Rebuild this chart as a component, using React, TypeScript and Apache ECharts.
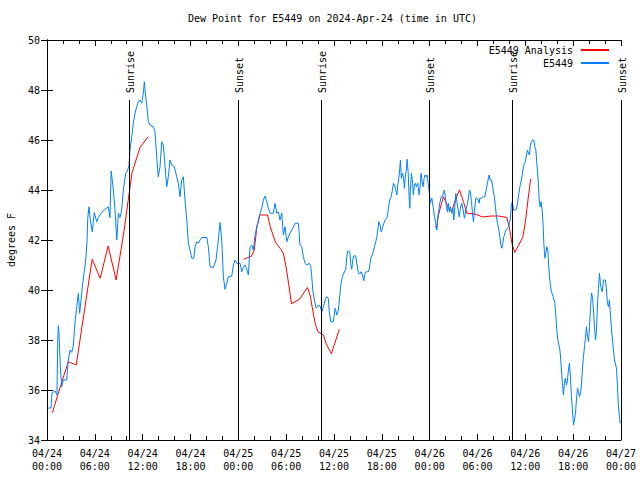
import React, { useEffect, useRef } from 'react';
import * as echarts from 'echarts';

const FONT = '"DejaVu Sans Mono", "Liberation Mono", monospace';

const titleText = 'Dew Point for E5449 on 2024-Apr-24 (time in UTC)';
const yAxisName = 'degrees F';
const seriesNames = ['E5449 Analysis', 'E5449'];

const xTickLabels = [
  '04/24\n00:00', '04/24\n06:00', '04/24\n12:00', '04/24\n18:00',
  '04/25\n00:00', '04/25\n06:00', '04/25\n12:00', '04/25\n18:00',
  '04/26\n00:00', '04/26\n06:00', '04/26\n12:00', '04/26\n18:00',
  '04/27\n00:00',
];

// hours since 04/24 00:00 UTC
const sunHours = [10.33, 23.9, 34.37, 47.93, 58.38, 71.96];
const sunLabels = ['Sunrise', 'Sunset', 'Sunrise', 'Sunset', 'Sunrise', 'Sunset'];

// [hour, degF]; null = gap
const analysis: [number, number | null][] = [
  [0.67, 35.09], [1.67, 36.13], [2.67, 37.13], [3.67, 37.0], [4.67, 39.13], [5.67, 41.23],
  [6.67, 40.47], [7.67, 41.76], [8.67, 40.4], [9.67, 42.37], [10.17, 43.55], [10.67, 44.7],
  [11.67, 45.7], [12.67, 46.13], [18, null],
  [24.67, 41.23], [25.67, 41.36], [26.0, 41.6], [26.33, 42.53], [26.67, 43.0], [27.67, 43.0],
  [28.0, 42.53], [28.67, 41.9], [29.33, 41.63], [29.67, 41.44], [30.0, 40.9], [30.33, 40.2],
  [30.67, 39.45], [31.67, 39.63], [32.67, 40.1], [33.0, 39.8], [33.33, 39.2], [33.67, 38.62],
  [34.0, 38.32], [34.67, 38.2], [35.0, 37.87], [35.67, 37.45], [36.67, 38.43], [42, null],
  [48.68, 42.53], [48.9, 42.53], [49.1, 43.0], [49.5, 43.47], [49.72, 43.73], [49.93, 43.6],
  [50.35, 43.27], [50.78, 43.13], [51.2, 43.6], [51.74, 44.0], [52.24, 43.53], [52.67, 43.07],
  [53.67, 43.04], [54.67, 42.92], [55.67, 42.96], [56.67, 42.96], [57.67, 42.9], [58.0, 42.5],
  [58.33, 41.85], [58.67, 41.5], [59.67, 42.1], [60.0, 42.7], [60.33, 43.6], [60.67, 44.45],
];

const observed: [number, number][] = [
  [0.13, 35.28], [0.5, 35.28], [0.63, 35.88], [1.0, 35.97], [1.25, 35.8], [1.34, 37.88], [1.42, 38.57],
  [1.5, 38.3], [1.67, 36.93], [1.84, 36.13], [2.05, 36.4], [2.47, 36.4], [2.63, 37.1], [2.89, 37.6],
  [3.1, 37.5], [3.3, 37.76], [3.51, 38.7], [3.73, 39.33], [3.93, 39.87], [4.1, 39.07], [4.27, 39.6],
  [4.43, 40.13], [4.64, 40.67], [4.86, 41.2], [5.02, 41.93], [5.11, 42.87], [5.27, 43.33], [5.43, 42.8],
  [5.68, 42.33], [5.93, 43.1], [6.24, 42.73], [6.44, 42.9], [6.65, 43.0], [6.86, 43.1], [7.19, 43.2],
  [7.69, 43.33], [7.9, 42.9], [8.05, 44.76], [8.32, 44.0], [8.53, 43.2], [8.75, 42.0], [8.95, 43.07],
  [9.16, 42.9], [9.37, 43.2], [9.57, 44.0], [9.87, 44.67], [10.13, 44.8], [10.29, 45.0], [10.41, 45.6],
  [10.63, 46.13], [10.83, 46.67], [11.04, 47.07], [11.25, 47.33], [11.46, 47.53], [11.67, 47.6],
  [11.88, 47.47], [12.08, 47.87], [12.21, 48.33], [12.38, 47.73], [12.58, 47.2], [12.71, 46.73],
  [12.92, 46.6], [13.34, 46.53], [13.55, 46.33], [13.76, 45.33], [13.96, 44.53], [14.18, 44.93],
  [14.39, 45.93], [14.59, 45.8], [14.81, 44.93], [15.02, 44.13], [15.22, 44.53], [15.43, 45.2],
  [15.65, 45.0], [15.97, 44.93], [16.27, 44.53], [16.47, 44.27], [16.69, 43.73], [16.9, 44.4],
  [17.1, 44.53], [17.31, 43.6], [17.53, 42.8], [17.73, 41.87], [17.94, 41.6], [18.16, 41.27],
  [18.41, 41.27], [18.57, 41.73], [18.78, 41.93], [18.98, 41.87], [19.2, 42.0], [19.41, 42.1],
  [20.04, 42.1], [20.24, 41.73], [20.45, 40.93], [20.87, 40.9], [21.2, 41.2], [21.49, 42.0],
  [21.71, 42.7], [21.92, 42.0], [22.12, 40.53], [22.33, 40.03], [22.55, 40.27], [22.75, 40.53],
  [23.17, 40.56], [23.38, 41.0], [23.59, 41.2], [23.8, 41.07], [24.0, 41.04], [24.22, 41.07],
  [24.43, 40.73], [24.63, 40.9], [24.84, 41.0], [25.06, 40.83], [25.26, 40.6], [25.47, 41.73],
  [25.68, 41.8], [25.88, 41.6], [26.1, 42.2], [26.31, 42.53], [26.51, 42.73], [26.73, 43.07],
  [26.94, 43.27], [27.14, 43.6], [27.35, 43.76], [27.57, 43.53], [27.77, 43.27], [27.98, 43.07],
  [28.39, 43.07], [28.61, 43.47], [28.82, 43.07], [29.02, 43.13], [29.23, 42.8], [29.45, 43.07],
  [29.65, 42.2], [29.86, 42.53], [30.08, 41.93], [30.28, 42.13], [30.58, 42.33], [30.83, 42.47],
  [31.12, 42.67], [31.53, 42.67], [31.74, 41.8], [31.96, 41.73], [32.16, 41.33], [32.37, 41.07],
  [32.58, 41.0], [32.91, 41.07], [33.09, 40.93], [33.21, 40.53], [33.34, 40.0], [33.54, 39.6],
  [33.75, 39.27], [33.92, 39.33], [34.04, 39.4], [34.25, 39.36], [34.47, 39.13], [34.67, 39.33],
  [34.88, 39.6], [35.09, 39.73], [35.29, 39.67], [35.42, 39.07], [35.6, 38.73], [35.92, 38.73],
  [36.14, 39.27], [36.35, 39.0], [36.55, 39.2], [36.67, 39.6], [36.89, 40.27], [37.05, 40.53],
  [37.18, 40.64], [37.48, 40.83], [37.6, 41.33], [37.73, 41.56], [37.98, 41.53], [38.11, 41.0],
  [38.23, 40.83], [38.36, 41.2], [38.48, 41.37], [38.73, 41.36], [38.86, 41.07], [39.06, 40.67],
  [39.23, 40.64], [39.4, 40.73], [39.56, 40.6], [39.74, 40.37], [39.9, 40.69], [40.03, 40.73],
  [40.31, 40.73], [40.44, 40.87], [40.61, 41.27], [40.74, 41.36], [40.94, 41.53], [41.07, 41.73],
  [41.24, 41.93], [41.37, 42.13], [41.49, 42.4], [41.62, 42.73], [41.78, 42.6], [41.91, 42.33],
  [42.07, 42.47], [42.25, 42.67], [42.41, 42.8], [42.62, 42.87], [42.75, 43.07], [42.82, 43.27],
  [43.0, 43.6], [43.16, 43.73], [43.33, 44.0], [43.45, 44.27], [43.58, 44.2], [43.75, 44.0],
  [43.88, 43.8], [44.0, 44.2], [44.13, 44.47], [44.25, 44.87], [44.33, 45.2], [44.45, 44.47],
  [44.58, 44.67], [44.71, 44.53], [44.83, 44.07], [44.96, 44.6], [45.08, 44.8], [45.17, 45.23],
  [45.3, 44.73], [45.42, 43.73], [45.51, 43.27], [45.58, 44.0], [45.71, 44.67], [45.83, 44.4],
  [45.96, 43.8], [46.08, 44.2], [46.21, 44.27], [46.33, 44.13], [46.51, 44.27], [46.68, 43.8],
  [46.8, 44.13], [46.93, 44.67], [47.05, 44.33], [47.18, 44.13], [47.3, 44.47], [47.43, 44.6],
  [47.55, 44.53], [47.68, 44.6], [47.84, 44.2], [47.97, 43.87], [48.09, 43.47], [48.27, 43.67],
  [48.43, 43.33], [48.6, 42.93], [48.77, 42.67], [48.9, 42.4], [49.02, 42.93], [49.15, 43.2],
  [49.27, 43.47], [49.44, 43.73], [49.6, 43.73], [49.72, 43.87], [49.85, 44.0], [49.97, 43.73],
  [50.1, 43.33], [50.23, 43.13], [50.35, 43.47], [50.48, 43.13], [50.6, 43.33], [50.78, 43.07],
  [50.91, 43.27], [51.03, 42.8], [51.16, 43.33], [51.28, 43.87], [51.41, 43.53], [51.54, 43.27],
  [51.7, 42.93], [51.86, 43.27], [52.03, 43.47], [52.2, 43.2], [52.36, 42.87], [52.53, 43.2],
  [52.7, 43.4], [52.86, 43.67], [52.99, 44.0], [53.11, 43.93], [53.24, 43.53], [53.36, 43.13],
  [53.49, 42.73], [53.61, 43.13], [53.79, 43.67], [53.95, 43.67], [54.08, 43.6], [54.2, 43.47],
  [54.29, 43.67], [54.49, 43.67], [54.71, 43.73], [54.92, 43.73], [55.12, 44.07], [55.33, 44.4],
  [55.46, 44.6], [55.58, 44.4], [55.75, 44.4], [55.87, 44.2], [56.0, 43.93], [56.12, 43.73],
  [56.25, 43.33], [56.38, 42.93], [56.5, 42.67], [56.68, 42.4], [56.8, 42.13], [56.93, 41.8],
  [57.05, 41.67], [57.18, 41.87], [57.3, 42.13], [57.43, 42.27], [57.59, 42.4], [57.76, 42.47],
  [57.88, 42.53], [58.01, 42.67], [58.13, 42.87], [58.26, 43.47], [58.39, 43.53], [58.51, 43.2],
  [58.72, 43.2], [58.88, 43.23], [59.01, 43.47], [59.13, 43.73], [59.26, 44.0], [59.39, 44.27],
  [59.51, 44.4], [59.64, 44.67], [59.76, 44.93], [59.89, 45.07], [60.01, 45.13], [60.14, 45.4],
  [60.26, 45.6], [60.39, 45.47], [60.51, 45.4], [60.64, 45.8], [60.77, 45.93], [60.89, 46.0],
  [61.07, 46.0], [61.19, 45.73], [61.32, 45.6], [61.44, 45.07], [61.61, 44.4], [61.73, 43.6],
  [61.86, 43.33], [61.98, 43.53], [62.11, 43.2], [62.23, 42.6], [62.32, 41.87], [62.45, 41.27],
  [62.57, 41.47], [62.7, 41.73], [62.82, 41.6], [62.95, 40.87], [63.07, 40.4], [63.27, 39.93],
  [63.49, 39.73], [63.7, 39.47], [63.82, 39.0], [63.95, 38.4], [64.11, 37.93], [64.28, 37.73],
  [64.4, 37.4], [64.53, 36.8], [64.65, 36.27], [64.78, 35.8], [64.9, 36.27], [65.03, 36.47],
  [65.16, 36.2], [65.28, 36.4], [65.41, 36.8], [65.53, 37.07], [65.66, 36.53], [65.78, 35.73],
  [65.91, 35.2], [66.04, 34.6], [66.16, 34.8], [66.29, 35.07], [66.41, 35.6], [66.54, 36.07],
  [66.67, 35.93], [66.79, 35.73], [66.92, 35.87], [67.04, 36.2], [67.17, 36.87], [67.29, 37.33],
  [67.42, 37.73], [67.54, 38.07], [67.67, 38.53], [67.79, 38.13], [67.92, 37.93], [68.05, 38.53],
  [68.17, 39.27], [68.3, 39.87], [68.42, 39.73], [68.55, 39.2], [68.67, 38.53], [68.8, 38.0],
  [68.92, 38.33], [69.05, 39.4], [69.17, 40.07], [69.3, 40.67], [69.42, 40.27], [69.55, 40.0],
  [69.67, 39.93], [69.8, 40.4], [70.05, 40.4], [70.18, 40.0], [70.3, 39.47], [70.43, 39.33],
  [70.55, 39.6], [70.68, 39.0], [70.81, 38.4], [70.93, 38.0], [71.06, 37.6], [71.18, 37.2],
  [71.43, 36.87], [71.56, 36.13], [71.68, 35.33], [71.81, 34.93], [71.89, 34.67],
];

const Y_MIN = 34;
const Y_MAX = 50;
const SUN_LINE_TOP = 47.6;
const SUN_LABEL_BASE = 47.88;

export default function App() {
  const ref = useRef<HTMLDivElement>(null);

  useEffect(() => {
    if (!ref.current) return;
    const chart = echarts.init(ref.current, null, { renderer: 'svg' });

    const axisLine = { show: true, lineStyle: { color: '#000', width: 1 } };
    const tickStyle = { color: '#000', width: 1 };

    const xBase = {
      type: 'value',
      min: 0,
      max: 72,
      interval: 6,
      splitLine: { show: false },
      axisLine,
      axisTick: { show: true, inside: true, length: 6, lineStyle: tickStyle },
      minorTick: { show: true, splitNumber: 3, length: 4, lineStyle: tickStyle },
      minorSplitLine: { show: false },
    };
    const yBase = {
      type: 'value',
      min: Y_MIN,
      max: Y_MAX,
      interval: 2,
      splitLine: { show: false },
      axisLine,
      axisTick: { show: true, inside: true, length: 6, lineStyle: tickStyle },
    };

    chart.setOption({
      animation: false,
      backgroundColor: '#ffffff',
      textStyle: { fontFamily: FONT },
      title: {
        text: titleText,
        left: 188,
        top: 13,
        padding: 0,
        textStyle: { fontFamily: FONT, fontSize: 10, fontWeight: 'normal', color: '#000' },
      },
      legend: {
        data: seriesNames,
        orient: 'vertical',
        right: 30,
        top: 45,
        padding: 0,
        align: 'right',
        itemWidth: 28,
        itemHeight: 10,
        itemGap: 3,
        itemStyle: { opacity: 0, borderWidth: 0 },
        textStyle: { fontFamily: FONT, fontSize: 10, color: '#000', padding: [0, 3, 0, 0] },
      },
      grid: { left: 47, top: 40, width: 574, height: 400, outerBoundsMode: 'none', containLabel: false },
      xAxis: [
        {
          ...xBase,
          position: 'bottom',
          axisLabel: {
            formatter: (v: number) => xTickLabels[Math.round(v / 6)] ?? '',
            fontFamily: FONT,
            fontSize: 10,
            color: '#000',
            lineHeight: 13,
            margin: 7,
          },
        },
        { ...xBase, position: 'top', axisLabel: { show: false } },
      ],
      yAxis: [
        {
          ...yBase,
          position: 'left',
          name: yAxisName,
          nameLocation: 'middle',
          nameRotate: 90,
          nameGap: 31,
          nameTextStyle: { fontFamily: FONT, fontSize: 10, color: '#000' },
          axisLabel: { fontFamily: FONT, fontSize: 10, color: '#000', margin: 7 },
        },
        { ...yBase, position: 'right', axisLabel: { show: false } },
      ],
      series: [
        {
          name: seriesNames[0],
          type: 'line',
          xAxisIndex: 0,
          yAxisIndex: 0,
          data: analysis.map((p) => (p[1] === null ? [p[0], '-'] : p)),
          symbol: 'none',
          connectNulls: false,
          lineStyle: { color: '#ff0000', width: 1 },
          itemStyle: { color: '#ff0000' },
          z: 3,
        },
        {
          name: seriesNames[1],
          type: 'line',
          xAxisIndex: 0,
          yAxisIndex: 0,
          data: observed,
          symbol: 'none',
          lineStyle: { color: '#0080ff', width: 1 },
          itemStyle: { color: '#0080ff' },
          z: 4,
        },
        {
          name: 'sun',
          type: 'custom',
          xAxisIndex: 0,
          yAxisIndex: 0,
          clip: false,
          silent: true,
          z: 5,
          data: sunHours.map((h) => [h, SUN_LINE_TOP]),
          renderItem: (params: any, api: any) => {
            const h = api.value(0);
            const top = api.coord([h, SUN_LINE_TOP]);
            const bot = api.coord([h, Y_MIN]);
            const lab = api.coord([h, SUN_LABEL_BASE]);
            const x = Math.round(top[0]) + 0.5;
            return {
              type: 'group',
              children: [
                {
                  type: 'line',
                  shape: { x1: x, y1: top[1], x2: x, y2: bot[1] },
                  style: { stroke: '#000', lineWidth: 1 },
                },
                {
                  type: 'text',
                  x: x + 1,
                  y: lab[1],
                  rotation: Math.PI / 2,
                  style: {
                    text: sunLabels[params.dataIndex],
                    fill: '#000',
                    font: `10px ${FONT}`,
                    align: 'left',
                    verticalAlign: 'middle',
                  },
                },
              ],
            };
          },
        },
      ],
    });

    return () => chart.dispose();
  }, []);

  return (
    <div
      ref={ref}
      style={{ position: 'absolute', left: 0, top: 0, width: 640, height: 480, background: '#fff' }}
    />
  );
}
